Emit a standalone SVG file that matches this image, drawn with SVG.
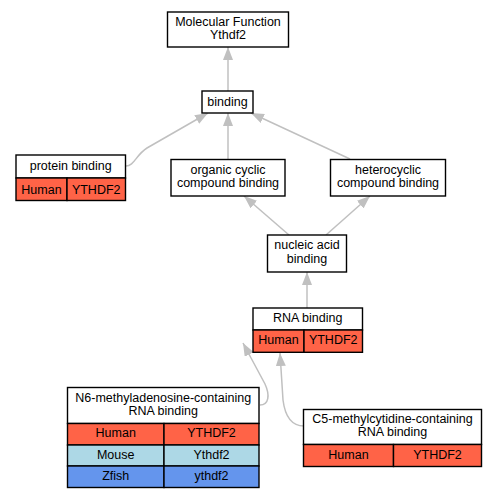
<svg xmlns="http://www.w3.org/2000/svg" width="496" height="499" viewBox="0 0 496 499">
<defs>
<style>
text{font-family:"Liberation Sans",Arial,sans-serif;font-size:12.5px;fill:#000;text-anchor:middle}
.box{fill:#fff;stroke:#000;stroke-width:1.4}
.hu{fill:#ff6347;stroke:#000;stroke-width:1.4}
.mo{fill:#add8e6;stroke:#000;stroke-width:1.4}
.zf{fill:#6495ed;stroke:#000;stroke-width:1.4}
.e{fill:none;stroke:#c0c0c0;stroke-width:1.5}
</style>
<marker id="ah" viewBox="0 0 10 10" refX="10" refY="5" markerUnits="userSpaceOnUse" markerWidth="13" markerHeight="10" preserveAspectRatio="none" orient="auto">
<path d="M0,0 L10,5 L0,10 z" fill="#c0c0c0"/>
</marker>
</defs>
<g id="edges">
<path class="e" d="M228,91 L228,47" marker-end="url(#ah)"/>
<path class="e" d="M228,159 L228,113" marker-end="url(#ah)"/>
<path class="e" d="M126,166 C134,166 136,155 147,148 L208,113" marker-end="url(#ah)"/>
<path class="e" d="M350,159 L251,113" marker-end="url(#ah)"/>
<path class="e" d="M289,235 L244,196" marker-end="url(#ah)"/>
<path class="e" d="M326,235 L370,196" marker-end="url(#ah)"/>
<path class="e" d="M307,308 L307,272" marker-end="url(#ah)"/>
<path class="e" d="M260,405 C269,405 270,395 265,384 L243,343" marker-end="url(#ah)"/>
<path class="e" d="M304,426 C292,426 285,416 283,400 L280,353" marker-end="url(#ah)"/>
</g>
<g id="mf">
<rect class="box" x="167.5" y="12" width="121" height="35"/>
<text x="228" y="26.3">Molecular Function</text>
<text x="228" y="39.1">Ythdf2</text>
</g>
<g id="binding">
<rect class="box" x="202" y="91" width="51" height="22"/>
<text x="227.5" y="105.5">binding</text>
</g>
<g id="protein">
<rect class="box" x="16" y="155" width="109.5" height="23"/>
<text x="70.7" y="169.5">protein binding</text>
<rect class="hu" x="16" y="178" width="51" height="22.5"/>
<rect class="hu" x="67" y="178" width="58.5" height="22.5"/>
<text x="41.5" y="193.5">Human</text>
<text x="96.2" y="193.5">YTHDF2</text>
</g>
<g id="organic">
<rect class="box" x="171" y="159.5" width="114" height="36.5"/>
<text x="228" y="174.1">organic cyclic</text>
<text x="228" y="186.9">compound binding</text>
</g>
<g id="hetero">
<rect class="box" x="330.5" y="159.5" width="115" height="36.5"/>
<text x="388" y="174.1">heterocyclic</text>
<text x="388" y="186.9">compound binding</text>
</g>
<g id="nucleic">
<rect class="box" x="267.5" y="235" width="79" height="37"/>
<text x="307" y="249.4">nucleic acid</text>
<text x="307" y="262.9">binding</text>
</g>
<g id="rna">
<rect class="box" x="253" y="308" width="109.5" height="22"/>
<text x="307.7" y="322">RNA binding</text>
<rect class="hu" x="253" y="330" width="51" height="22.3"/>
<rect class="hu" x="304" y="330" width="58.5" height="22.3"/>
<text x="278.5" y="343.5">Human</text>
<text x="333.2" y="343.5">YTHDF2</text>
</g>
<g id="n6">
<rect class="box" x="67.5" y="387.5" width="191.5" height="36"/>
<text x="163.2" y="401.6">N6-methyladenosine-containing</text>
<text x="163.2" y="414.6">RNA binding</text>
<rect class="hu" x="67.5" y="423.5" width="96.5" height="21.5"/>
<rect class="hu" x="164" y="423.5" width="95" height="21.5"/>
<text x="115.7" y="437">Human</text>
<text x="211.5" y="437">YTHDF2</text>
<rect class="mo" x="67.5" y="445" width="96.5" height="21"/>
<rect class="mo" x="164" y="445" width="95" height="21"/>
<text x="115.7" y="458.5">Mouse</text>
<text x="211.5" y="458.5">Ythdf2</text>
<rect class="zf" x="67.5" y="466" width="96.5" height="21.5"/>
<rect class="zf" x="164" y="466" width="95" height="21.5"/>
<text x="115.7" y="479.5">Zfish</text>
<text x="211.5" y="479.5">ythdf2</text>
</g>
<g id="c5">
<rect class="box" x="303.5" y="409.5" width="178" height="35"/>
<text x="392.5" y="423.3">C5-methylcytidine-containing</text>
<text x="392.5" y="436.1">RNA binding</text>
<rect class="hu" x="303.5" y="444.5" width="90" height="22"/>
<rect class="hu" x="393.5" y="444.5" width="88" height="22"/>
<text x="348.5" y="458.5">Human</text>
<text x="437.5" y="458.5">YTHDF2</text>
</g>
</svg>
